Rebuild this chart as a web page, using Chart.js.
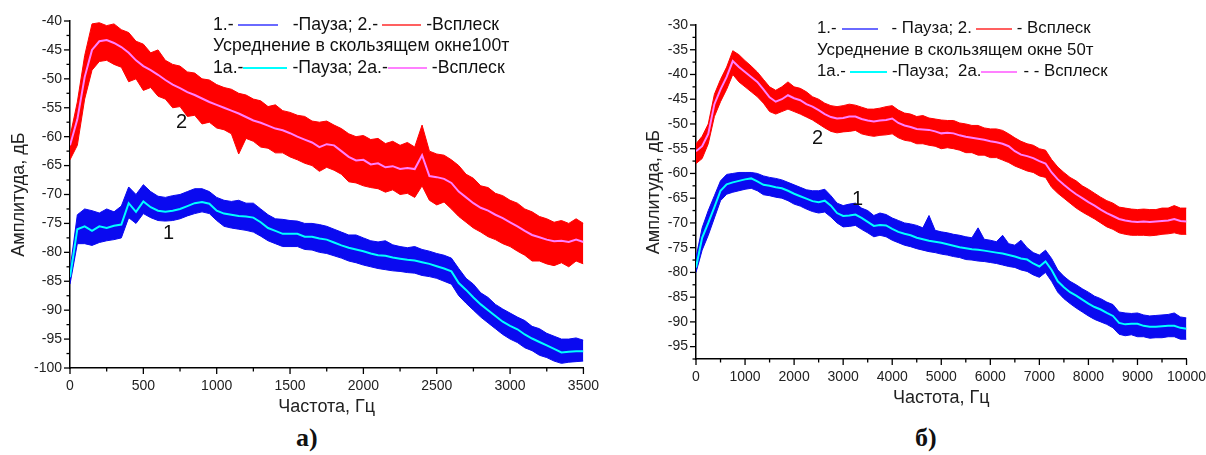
<!DOCTYPE html>
<html lang="ru">
<head>
<meta charset="UTF-8">
<title>Спектры: пауза и всплеск</title>
<script src="https://cdn.jsdelivr.net/npm/chart.js"></script>
<style>
  body { margin: 0; width: 1206px; height: 455px; background: #fff; position: relative; overflow: hidden;
         font-family: "Liberation Sans", Arial, sans-serif; color: #111; }
  .box { position: absolute; }
  .leg { position: absolute; line-height: 22px; white-space: nowrap; }
  .smp { display: inline-block; height: 2px; vertical-align: middle; }
  .num { position: absolute; font-size: 20px; line-height: 20px; }
  .cap { position: absolute; font-family: "Liberation Serif", "Times New Roman", serif; font-weight: bold; font-size: 26px; }
</style>
</head>
<body>
<div class="box" style="left:0; top:0; width:609px; height:420px;"><canvas id="chartA"></canvas></div>
<div class="box" style="left:620px; top:0; width:596px; height:411px;"><canvas id="chartB"></canvas></div>

<div class="leg" style="left:213px; top:13px; font-size:17.7px;">1.-<span class="smp" style="width:40px; background:#6a6aff; margin:0 15px 0 4px;"></span>-Пауза; 2.-<span class="smp" style="width:39px; background:#ff6060; margin:0 5px 0 4px;"></span>-Всплеск</div>
<div class="leg" style="left:213px; top:34px; font-size:17.7px;">Усреднение в скользящем окне100т</div>
<div class="leg" style="left:213px; top:56px; font-size:17.7px;">1а.-<span class="smp" style="width:44px; background:#00ffff; margin:0 5px 0 0;"></span>-Пауза; 2а.-<span class="smp" style="width:39px; background:#ff80ff; margin:0 5px 0 0;"></span>-Всплеск</div>

<div class="leg" style="left:817px; top:17px; font-size:16.8px;">1.-<span class="smp" style="width:36px; background:#6a6aff; margin:0 14px 0 5px;"></span>- Пауза; 2.<span class="smp" style="width:36px; background:#ff6060; margin:0 5px 0 4px;"></span>- Всплеск</div>
<div class="leg" style="left:817px; top:39px; font-size:16.8px;">Усреднение в скользящем окне 50т</div>
<div class="leg" style="left:817px; top:60px; font-size:16.8px;">1а.-<span class="smp" style="width:37px; background:#00ffff; margin:0 5px 0 4px;"></span>-Пауза;&nbsp; 2а.<span class="smp" style="width:36px; background:#ff80ff; margin:0 6px 0 0;"></span>- - Всплеск</div>

<div class="num" style="left:176px; top:111px;">2</div>
<div class="num" style="left:163px; top:222px;">1</div>
<div class="num" style="left:812px; top:127px;">2</div>
<div class="num" style="left:852px; top:188px;">1</div>

<div class="cap" style="left:296px; top:423px;">а)</div>
<div class="cap" style="left:915px; top:423px;">б)</div>

<script>
// ---- панель а): окно 100т, 0..3500 Гц, шаг 50 Гц ----
const freqA = [];
for (let f = 0; f <= 3500; f += 50) freqA.push(f);

// 2 - всплеск (шумовая полоса: верх / низ), 2а - сглаженная
const burstHiA = [-60,-54,-46,-40.5,-40.3,-40.8,-40.5,-41.5,-42,-43.5,-44,-45.5,-45,-46.8,-47.5,-47.8,-48.8,-49,-50,-50.2,
  -51,-51.5,-51.8,-52.5,-52.8,-53.5,-53.8,-54.8,-54.5,-55.5,-55.8,-56.3,-56.5,-57.3,-57.5,-57.3,-58,-58.6,-59.5,-60,
  -59.8,-60.5,-60.3,-61.2,-60.8,-61.5,-61,-61.8,-58,-62.5,-63,-63.2,-64,-65,-66.5,-67.2,-68.5,-68.8,-69.8,-70.2,
  -71,-71.5,-72.5,-73,-73.8,-74.2,-74.8,-74.5,-75,-74.2,-75];
const burstLoA = [-64,-61.5,-53.5,-48.5,-47,-46.8,-47.5,-48,-50.5,-50,-52,-51.5,-53,-53.5,-55,-54.8,-56.5,-56.3,-57.8,-57.5,
  -58.5,-58.8,-59.5,-63,-60.3,-60.8,-61.8,-62,-62.8,-62.8,-63.5,-64,-64.6,-65,-66,-65.3,-65.8,-66.5,-67.8,-68,
  -68.5,-68.8,-69,-69.6,-69.2,-70,-69.8,-70.5,-68.5,-71,-71.8,-71.3,-72.5,-73.8,-74.8,-75.8,-76.5,-77.3,-77.8,-78.5,
  -79,-79.8,-80.5,-81.5,-81.5,-82,-82.3,-81.8,-82.5,-81.5,-82];
const burstAvgA = [-61.5,-57,-49.7,-45,-43.5,-43.3,-43.8,-44.5,-45.5,-46.8,-47.8,-48.5,-49.3,-50.2,-51,-51.6,-52.3,-52.8,-53.4,-54,
  -54.5,-55,-55.5,-56,-56.6,-57.2,-57.6,-58.1,-58.6,-58.9,-59.4,-60,-60.5,-61,-61.8,-61.3,-61.5,-62.5,-63.5,-64.1,
  -64,-64.8,-64.6,-65.3,-65.1,-65.6,-65.4,-65.6,-63.2,-66.8,-67,-67.3,-68,-69.5,-70.5,-71.5,-72.3,-72.8,-73.5,-74.1,
  -74.8,-75.5,-76.3,-77,-77.4,-77.8,-78.1,-78,-78.2,-77.8,-78.2];
// 1 - пауза, 1а - сглаженная
const pauseHiA = [-83,-73.5,-72.5,-72.8,-73.2,-72.5,-73,-72,-68.7,-70,-68.3,-69.5,-70.3,-70.5,-70.2,-70,-69.5,-69,-69,-69.5,
  -70.5,-71,-71.2,-71,-71.5,-71.5,-72.5,-73.5,-74.2,-74.3,-74.5,-74.6,-75,-75,-75.2,-75.5,-76,-76.5,-77,-77,
  -77.5,-78,-78.2,-78,-78.7,-79,-79.2,-79,-79.5,-79.8,-80.2,-80.5,-81,-82.8,-84.5,-85.5,-87,-87.8,-89,-89.8,
  -90.5,-91.2,-91.8,-92.8,-93.2,-94,-94.5,-95,-95,-94.8,-95.2];
const pauseLoA = [-85.5,-78.5,-78.5,-78.8,-78.3,-78,-77.8,-77.5,-74,-75,-73.3,-74,-74.5,-74.6,-74.5,-74.2,-73.7,-73.3,-73,-73.3,
  -74.5,-75.5,-75.8,-76,-76.2,-76.5,-77.2,-78,-78.5,-79,-79,-79,-79.5,-79.6,-80,-80.2,-80.6,-81,-81.5,-81.8,
  -82.2,-82.5,-82.8,-83,-83.2,-83.3,-83.5,-83.6,-84,-84.2,-84.5,-85,-85.5,-87.5,-88.8,-90,-91.2,-92.2,-93.2,-94.2,
  -95,-95.6,-96.5,-97,-97.8,-98.2,-98.8,-99.2,-99,-98.9,-98.8];
const pauseAvgA = [-84.3,-76,-75.5,-76.3,-75.5,-75.8,-75.4,-75.2,-71.5,-73,-71.2,-72.2,-72.8,-73,-72.8,-72.5,-72,-71.5,-71.3,-71.6,
  -72.8,-73.3,-73.5,-73.7,-73.8,-74,-74.8,-75.8,-76.3,-76.8,-76.8,-76.8,-77.3,-77.3,-77.6,-77.8,-78.3,-78.8,-79.2,-79.5,
  -79.8,-80.2,-80.5,-80.6,-80.9,-81.1,-81.3,-81.4,-81.7,-82,-82.4,-82.8,-83.3,-85.3,-86.5,-87.8,-89,-90,-91,-92,
  -92.7,-93.3,-94.2,-94.9,-95.5,-96.1,-96.7,-97.3,-97.2,-97.1,-97.1];

// ---- панель б): окно 50т, 0..10000 Гц, шаг 125 Гц ----
const freqB = [];
for (let f = 0; f <= 10000; f += 125) freqB.push(f);

const burstHiB = [-54,-52.5,-50,-44,-41,-38.5,-35.2,-36,-37.2,-38.3,-39.5,-41,-42.5,-43.2,-42.5,-41.5,-42.5,-42.8,-43.5,-44.5,
  -45,-45.8,-46.3,-46.5,-46.3,-46,-46.2,-46.6,-47,-47,-46.8,-46.5,-46.3,-47.2,-47.8,-48,-48.5,-48.3,-48.8,-49,
  -49.2,-49.3,-49.3,-49.8,-50,-50.3,-50.3,-50.8,-51,-51,-51.3,-52,-52.8,-53.5,-54,-54.3,-55,-55.3,-57.2,-58.7,
  -59.8,-60.8,-61.5,-62.5,-63.2,-64,-64.8,-65.5,-66,-66.8,-67,-67.2,-67.3,-67.2,-67.3,-67.3,-67,-67,-66.5,-67,-67];
const burstLoB = [-58,-57,-54,-48.5,-45.5,-43,-40,-41.5,-42.5,-43.5,-44.5,-45.8,-47.5,-48,-47.5,-47,-47.5,-48,-48.6,-49.2,
  -50,-50.8,-51.5,-51.8,-51.6,-51.5,-51.3,-52,-52.3,-52.5,-52.3,-52.2,-52,-52.8,-53.3,-53.5,-54,-54,-54.3,-54.5,
  -55,-54.8,-55,-55.3,-55.8,-55.8,-56.3,-56.3,-56.8,-56.8,-57.3,-57.8,-58.5,-59,-59.5,-59.8,-60.5,-60.8,-62.8,-64,
  -65,-66,-67,-67.8,-68.5,-69.2,-70,-70.8,-71.3,-72,-72.3,-72.5,-72.5,-72.5,-72.6,-72.5,-72.3,-72.2,-72,-72.3,-72.3];
const burstAvgB = [-55.5,-54.5,-52,-46,-43,-40.5,-37.3,-38.5,-39.5,-40.5,-41.5,-43,-44.6,-45.5,-45,-44.2,-44.8,-45.2,-46,-46.5,
  -47.2,-48,-48.6,-48.9,-48.8,-48.5,-48.5,-49,-49.3,-49.5,-49.3,-49.2,-48.9,-49.8,-50.3,-50.6,-51,-51.1,-51.2,-51.5,
  -51.9,-51.8,-51.9,-52.3,-52.6,-52.8,-53,-53.2,-53.5,-53.7,-54,-54.5,-55.5,-56.2,-56.5,-56.9,-57.5,-58,-59.8,-61.2,
  -62.3,-63.3,-64.2,-65,-65.8,-66.5,-67.3,-68,-68.6,-69.2,-69.5,-69.7,-69.8,-69.7,-69.8,-69.7,-69.6,-69.5,-69.2,-69.6,-69.7];
const pauseHiB = [-77,-71,-67.5,-64.5,-61.5,-60.2,-60,-59.8,-59.8,-59.8,-60,-60.5,-60.8,-61,-61.3,-61.8,-62.3,-62.8,-63.3,-63.5,
  -63.5,-63.2,-64.5,-66,-66.5,-66.2,-66,-67,-67.5,-68.5,-68,-68.3,-69,-69.5,-70,-70.2,-70.5,-71,-68.5,-71.5,
  -71.8,-72,-72.3,-72.5,-72.8,-73,-71,-73.3,-73.5,-73.8,-72.5,-74.2,-74.5,-73.5,-75,-76,-76.5,-75.5,-77.2,-79.5,
  -80.8,-81.8,-82.5,-83.3,-84,-84.8,-85.3,-86,-86.5,-88,-88.2,-88.3,-88.2,-88.6,-88.8,-88.7,-88.6,-88.5,-88.2,-89,-89.2];
const pauseLoB = [-80,-75.5,-72.5,-69,-65.5,-64.2,-63.8,-63.5,-63.2,-63,-63.5,-64.3,-64.5,-64.8,-65,-65.5,-66.2,-66.6,-67.2,-67.7,
  -68,-67.8,-68.8,-70,-70.8,-70.7,-70.5,-71.3,-72,-72.8,-72.5,-72.8,-73.5,-74,-74.5,-74.8,-75.2,-75.5,-75.8,-76,
  -76.3,-76.5,-76.8,-77,-77.4,-77.5,-77.7,-77.8,-78,-78.2,-78.5,-78.8,-79,-79.5,-79.8,-80.5,-81,-80,-81.8,-84,
  -85.3,-86.3,-87.2,-88,-88.8,-89.5,-90,-90.5,-91.2,-92.5,-92.8,-92.6,-93,-93,-93.3,-93.2,-93.2,-93,-93,-93.5,-93.5];
const pauseAvgB = [-79,-73,-70,-66.8,-63.5,-62.2,-61.8,-61.5,-61.2,-61,-61.6,-62.3,-62.5,-62.8,-63,-63.5,-64.1,-64.6,-65.1,-65.6,
  -65.8,-65.5,-66.5,-68,-68.6,-68.5,-68.3,-69,-69.8,-70.6,-70.4,-70.5,-71.2,-71.8,-72.2,-72.5,-73,-73.3,-73.6,-73.8,
  -74,-74.3,-74.6,-74.9,-75.1,-75.3,-75.4,-75.6,-75.8,-76,-76.2,-76.5,-76.8,-77.2,-77.4,-78.2,-78.8,-77.8,-79.5,-81.8,
  -83,-84,-84.7,-85.5,-86.3,-87,-87.5,-88.2,-88.8,-90.2,-90.5,-90.4,-90.4,-90.8,-91,-91,-90.9,-90.8,-90.8,-91.2,-91.4];

const BLUE = '#0a0af0', RED = '#ff0000', CYAN = '#00ffff', PINK = '#ff80ff';

function pts(xs, ys) {
    return xs.map((x, i) => ({ x: x, y: ys[i] }));
}

// малые/большие засечки осей, как в Origin
const tickMarks = {
    id: 'tickMarks',
    afterDraw(chart, args, opts) {
        const ctx = chart.ctx;
        const xs = chart.scales.x, ys = chart.scales.y;
        ctx.save();
        ctx.strokeStyle = '#000';
        ctx.lineWidth = 1.3;
        xs.ticks.forEach(t => {
            const px = xs.getPixelForValue(t.value);
            const len = t.value % opts.xMajor === 0 ? 6 : 3.5;
            ctx.beginPath(); ctx.moveTo(px, xs.top); ctx.lineTo(px, xs.top + len); ctx.stroke();
        });
        ys.ticks.forEach(t => {
            const py = ys.getPixelForValue(t.value);
            const len = t.value % 5 === 0 ? 6 : 3.5;
            ctx.beginPath(); ctx.moveTo(ys.right, py); ctx.lineTo(ys.right - len, py); ctx.stroke();
        });
        ctx.restore();
    }
};

function drawChart(tag, freq, sets, o) {
    const band = (d, c, fill) => ({ data: pts(freq, d), borderColor: c, backgroundColor: c, borderWidth: 1, fill: fill, order: 2 });
    const line = (d, c) => ({ data: pts(freq, d), borderColor: c, borderWidth: 2, fill: false, order: 0 });
    return new Chart(document.getElementById(tag), {
        type: 'line',
        data: {
            datasets: [
                line(sets.burstAvg, PINK),
                line(sets.pauseAvg, CYAN),
                band(sets.burstHi, RED, '+1'),
                band(sets.burstLo, RED, false),
                band(sets.pauseHi, BLUE, '+1'),
                band(sets.pauseLo, BLUE, false)
            ]
        },
        plugins: [tickMarks],
        options: {
            responsive: true,
            maintainAspectRatio: false,
            animation: false,
            elements: { point: { radius: 0 }, line: { tension: 0 } },
            layout: { padding: { top: o.padTop, right: o.padRight, left: 0, bottom: 0 } },
            plugins: { legend: { display: false }, tooltip: { enabled: false }, tickMarks: { xMajor: o.xMajor } },
            scales: {
                x: {
                    type: 'linear', min: 0, max: o.xMax,
                    afterFit(s) { s.height = 52; },
                    grid: { display: false, drawTicks: false },
                    border: { display: true, color: '#000', width: 1.5 },
                    ticks: {
                        stepSize: o.xStep, padding: 10, color: '#222', maxRotation: 0, autoSkip: false,
                        font: { family: 'Liberation Sans', size: 14 },
                        callback: v => (v % o.xMajor === 0 ? String(v) : '')
                    },
                    title: { display: true, text: 'Частота, Гц', color: '#222',
                             font: { family: 'Liberation Sans', size: 18 }, padding: { top: 0, bottom: 2 } }
                },
                y: {
                    min: o.yMin, max: o.yMax,
                    afterFit(s) { s.width = o.yWidth; },
                    grid: { display: false, drawTicks: false },
                    border: { display: true, color: '#000', width: 1.5 },
                    ticks: {
                        stepSize: 2.5, padding: 8, color: '#222', autoSkip: false,
                        font: { family: 'Liberation Sans', size: 14 },
                        callback: v => (v % 5 === 0 ? String(v) : '')
                    },
                    title: { display: true, text: 'Амплитуда, дБ', color: '#222',
                             font: { family: 'Liberation Sans', size: 18 }, padding: { top: o.titlePad, bottom: 0 } }
                }
            }
        }
    });
}

drawChart('chartA', freqA, {
    burstHi: burstHiA, burstLo: burstLoA, burstAvg: burstAvgA,
    pauseHi: pauseHiA, pauseLo: pauseLoA, pauseAvg: pauseAvgA
}, { xMax: 3500, xStep: 250, xMajor: 500, yMin: -100, yMax: -40, yWidth: 70, padTop: 21, padRight: 17, titlePad: 8 });

drawChart('chartB', freqB, {
    burstHi: burstHiB, burstLo: burstLoB, burstAvg: burstAvgB,
    pauseHi: pauseHiB, pauseLo: pauseLoB, pauseAvg: pauseAvgB
}, { xMax: 10000, xStep: 500, xMajor: 1000, yMin: -97.5, yMax: -30, yWidth: 76, padTop: 25, padRight: 21, titlePad: 23 });
</script>
</body>
</html>
